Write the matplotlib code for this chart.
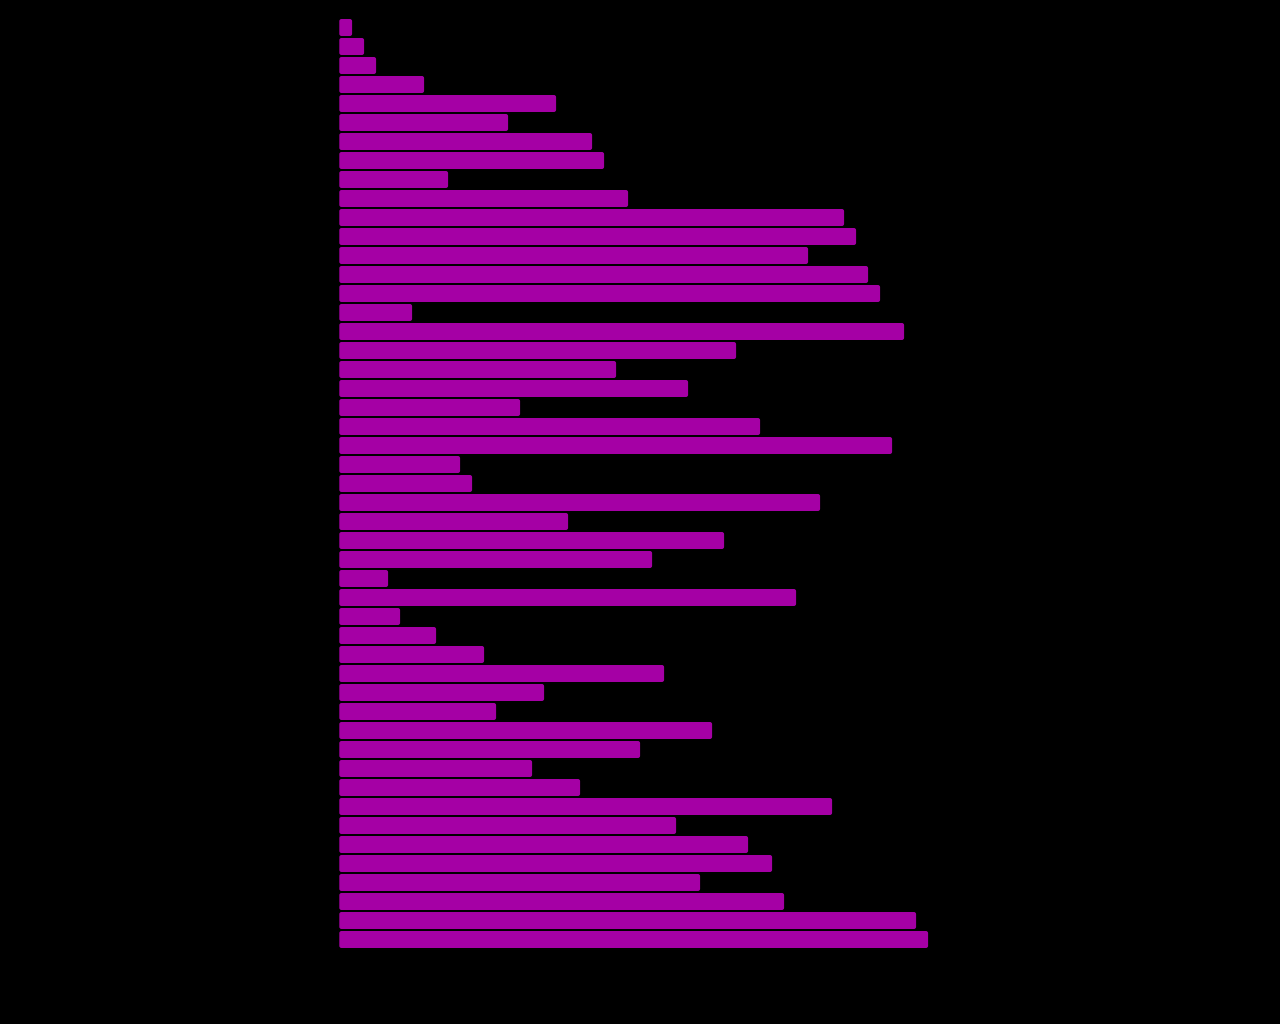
import matplotlib
matplotlib.use("Agg")
import matplotlib.pyplot as plt
from matplotlib.patches import FancyBboxPatch

# Values of each bar (top to bottom) - a shuffled permutation 1..49
values = [1, 2, 3, 7, 18, 14, 21, 22, 9, 24, 42, 43, 39, 44, 45, 6, 47, 33, 23, 29,
          15, 35, 46, 10, 11, 40, 19, 32, 26, 4, 38, 5, 8, 12, 27, 17, 13, 31, 25, 16,
          20, 41, 28, 34, 36, 30, 37, 48, 49]
positions = list(range(len(values)))

BAR_COLOR = "#a500a5"
W, H = 1280, 1024

fig = plt.figure(figsize=(W / 100, H / 100), dpi=100, facecolor="black")
unit = 12.0
ax_left, ax_top = 339.3, 18.0
n = len(values)
ax_h = n * 19.0
ax_w = 50 * unit
ax = fig.add_axes([ax_left / W, (H - ax_top - ax_h) / H, ax_w / W, ax_h / H])
ax.set_facecolor("black")

bars = ax.barh(positions, values, height=17 / 19, left=0, color=BAR_COLOR,
               edgecolor="none", linewidth=0)

# replace rectangles by slightly rounded ones of the same geometry
px_x = 1 / unit          # data units per pixel in x
px_y = 1 / 19.0          # data units per pixel in y
for rect in bars.patches:
    x, y = rect.get_x(), rect.get_y()
    w, h = rect.get_width(), rect.get_height()
    fb = FancyBboxPatch((x, y), w + 0.8 * px_x, h,
                        boxstyle=f"round,pad=0,rounding_size={2.2 * px_x}",
                        mutation_aspect=px_y / px_x,
                        facecolor=BAR_COLOR, edgecolor="none", linewidth=0)
    ax.add_patch(fb)
    rect.set_visible(False)

ax.set_xlim(0, 50)
ax.set_ylim(n - 0.5, -0.5)
ax.axis("off")

fig.savefig("out.png", dpi=100, facecolor="black")
